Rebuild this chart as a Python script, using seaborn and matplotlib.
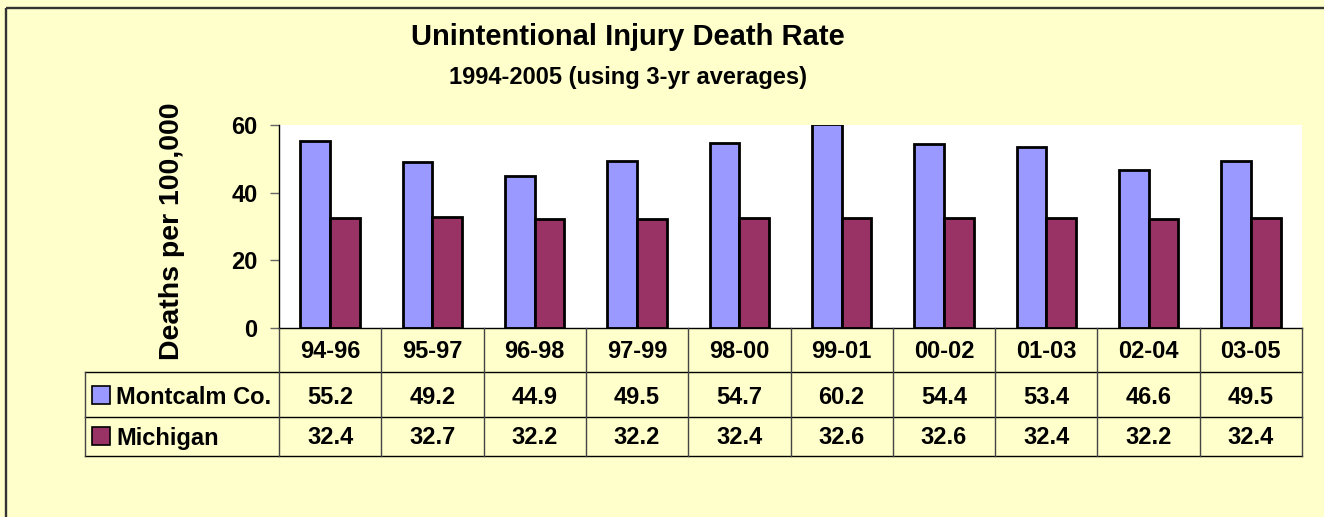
import pandas as pd
import matplotlib.pyplot as plt
import seaborn as sns

periods = ['94-96', '95-97', '96-98', '97-99', '98-00', '99-01', '00-02', '01-03', '02-04', '03-05']
montcalm = [55.2, 49.2, 44.9, 49.5, 54.7, 60.2, 54.4, 53.4, 46.6, 49.5]
michigan = [32.4, 32.7, 32.2, 32.2, 32.4, 32.6, 32.6, 32.4, 32.2, 32.4]
series_names = ['Montcalm Co.', 'Michigan']
colors = ['#9999FF', '#993366']

data = pd.DataFrame({
    'period': periods * 2,
    'rate': montcalm + michigan,
    'area': [series_names[0]] * len(periods) + [series_names[1]] * len(periods),
})

plt.rcParams['font.family'] = ['Liberation Sans', 'DejaVu Sans']
plt.rcParams['font.weight'] = 'bold'

W, H = 1324, 517
fig = plt.figure(figsize=(W / 100, H / 100), dpi=100, facecolor='#FFFFCC')

# outer chart border (only top and left visible in the crop)
fig.add_artist(plt.Line2D([6 / W, 1.02], [1 - 7.5 / H, 1 - 7.5 / H], color='#333333',
                          lw=1.7, solid_capstyle='butt'))
fig.add_artist(plt.Line2D([6 / W, 6 / W], [-0.02, 1 - 7.5 / H], color='#333333',
                          lw=1.7, solid_capstyle='butt'))

# plot area
ax = fig.add_axes([279 / W, (H - 328) / H, (1302 - 279) / W, (328 - 125) / H])
ax.set_facecolor('white')
sns.barplot(data=data, x='period', y='rate', hue='area', palette=colors,
            saturation=1, width=0.58, gap=0, edgecolor='black', linewidth=2,
            errorbar=None, legend=False, ax=ax)
ax.set_xlim(-0.5, len(periods) - 0.5)
ax.set_ylim(0, 60)
ax.set_yticks([0, 20, 40, 60])
ax.set_xticks([])
ax.set_xlabel('')
ax.set_ylabel('')
for s in ['top', 'right']:
    ax.spines[s].set_visible(False)
for s in ['left', 'bottom']:
    ax.spines[s].set_color('black')
    ax.spines[s].set_linewidth(1.0)
ax.tick_params(axis='y', length=6.5, width=1, color='#666666', pad=9, labelsize=17)

fig.text(172 / W, 1 - 231 / H, 'Deaths per 100,000', rotation=90,
         ha='center', va='center', fontsize=20.5, fontweight='bold')

fig.text(628 / W, 1 - 45 / H, 'Unintentional Injury Death Rate',
         ha='center', va='baseline', fontsize=21, fontweight='bold')
fig.text(628 / W, 1 - 84 / H, '1994-2005 (using 3-yr averages)',
         ha='center', va='baseline', fontsize=17, fontweight='bold')

# data table below the plot
unit = (1302 - 279) / len(periods)
label_w = (279 - 85) / unit
xmin = -0.5 - label_w
xmax = len(periods) - 0.5
tax = fig.add_axes([85 / W, (H - 456) / H, (1302 - 85) / W, (456 - 328) / H])
tax.set_xlim(xmin, xmax)
tax.set_ylim(128, 0)
tax.axis('off')
tax.patch.set_visible(False)

rows = [0, 44, 89, 128]
hline = dict(color='black', lw=1.0, clip_on=False)
vline = dict(color='#444444', lw=1.0, clip_on=False)
tax.plot([xmin, xmax], [rows[1], rows[1]], **hline)
tax.plot([xmin, xmax], [rows[2], rows[2]], **hline)
tax.plot([xmin, xmax], [rows[3], rows[3]], **hline)
tax.plot([xmin, xmin], [rows[1], rows[3]], **vline)
for i in range(len(periods) + 1):
    tax.plot([i - 0.5, i - 0.5], [rows[0], rows[3]], **vline)

for i, p in enumerate(periods):
    tax.text(i, 24, p, ha='center', va='center', fontsize=17, fontweight='bold')
    tax.text(i, 69, f'{montcalm[i]:.1f}', ha='center', va='center', fontsize=17, fontweight='bold')
    tax.text(i, 110, f'{michigan[i]:.1f}', ha='center', va='center', fontsize=17, fontweight='bold')

for name, color, y in zip(series_names, colors, [69, 110]):
    tax.plot(xmin + 16 / unit, y - 2, marker='s', ms=12.5, mfc=color, mec='black', mew=1.2, clip_on=False)
    tax.text(xmin + 31 / unit, y, name, ha='left', va='center', fontsize=17, fontweight='bold')

fig.savefig('out.png', dpi=100, facecolor=fig.get_facecolor())
